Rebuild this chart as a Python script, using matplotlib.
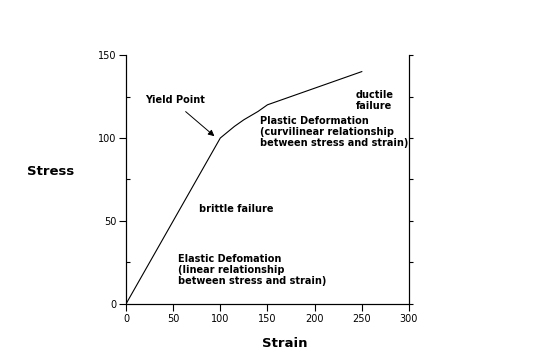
import matplotlib
matplotlib.use("Agg")
import matplotlib.pyplot as plt

# stress-strain curve
strain = [0, 100, 115, 125, 140, 150, 200, 250]
stress = [0, 100, 107, 111, 116, 120, 130, 140]

x_ticks = [0, 50, 100, 150, 200, 250, 300]
y_ticks = [0, 50, 100, 150]
y_minor = [25, 75, 125]

fig = plt.figure(figsize=(5.4, 3.6), dpi=100)
ax = fig.add_axes([0.2333, 0.1556, 0.524, 0.6916])

ax.plot(strain, stress, color="black", lw=0.8)
ax.set_xlim(0, 300)
ax.set_ylim(0, 150)

ax.spines["top"].set_visible(False)
ax.set_xticks(x_ticks)
ax.set_yticks(y_ticks)
ax.set_yticks(y_minor, minor=True)
ax.tick_params(axis="both", which="major", direction="out", length=5, width=0.8,
               labelsize=7, pad=2)
ax.tick_params(axis="y", which="minor", direction="in", length=3, width=0.8)
for s in ax.spines.values():
    s.set_linewidth(0.8)

# right spine ticks every 25, outward, no labels
ax2 = ax.twinx()
ax2.set_ylim(0, 150)
ax2.set_yticks(y_ticks + y_minor)
ax2.tick_params(axis="y", direction="out", length=3, width=0.8, labelright=False)
ax2.spines["top"].set_visible(False)
ax2.spines["right"].set_linewidth(0.8)

ax.set_xlabel("Strain", fontsize=9.5, fontweight="bold", va="center")
ax.xaxis.set_label_coords(0.562, -0.157)
ax.set_ylabel("Stress", fontsize=9.5, fontweight="bold", rotation=0, va="center", ha="center")
ax.yaxis.set_label_coords(-0.265, 0.534)

bold = dict(fontsize=7, fontweight="bold", ha="left", va="center")
ax.annotate("", xy=(96, 100), xytext=(61, 117),
            arrowprops=dict(arrowstyle="-|>", color="black", lw=0.7, mutation_scale=9))
ax.text(20, 123, "Yield Point", **bold)
ax.text(244, 122.5, "ductile\nfailure", linespacing=1.2, **bold)
ax.text(142, 103.5, "Plastic Deformation\n(curvilinear relationship\nbetween stress and strain)",
        linespacing=1.15, **bold)
ax.text(77, 57, "brittle failure", **bold)
ax.text(55, 20.5, "Elastic Defomation\n(linear relationship\nbetween stress and strain)",
        linespacing=1.15, **bold)

fig.savefig("out.png", dpi=100)
